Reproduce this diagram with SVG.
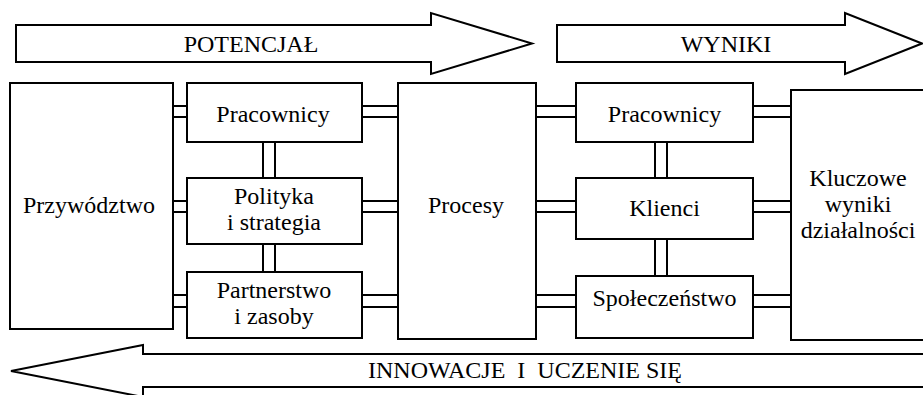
<svg xmlns="http://www.w3.org/2000/svg" width="923" height="395" viewBox="0 0 923 395">
<style>
.b{fill:#fff;stroke:#000;stroke-width:2}
.a{fill:#fff;stroke:#000;stroke-width:2;stroke-linejoin:miter}
.c line{stroke:#000;stroke-width:2}
.t{font-family:"Liberation Serif","Times New Roman",serif;font-size:24px;fill:#000;text-anchor:middle}
</style>
<rect width="923" height="395" fill="#fff"/>
<g id="arrow-potencjal">
<polygon class="a" points="16,25 431,25 431,13 532,43.5 431,74 431,62 16,62"/>
<text class="t" x="251" y="52">POTENCJAŁ</text>
</g>
<g id="arrow-wyniki">
<polygon class="a" points="557,25 845,25 845,13 922,43.5 845,74 845,62 557,62"/>
<text class="t" x="726" y="52">WYNIKI</text>
</g>
<g id="arrow-innowacje">
<path class="a" d="M926,354 L143,354 L143,345 L11,371 L143,397 L143,387 L926,387"/>
<text class="t" x="525" y="378" xml:space="preserve">INNOWACJE  I  UCZENIE SIĘ</text>
</g>
<g class="c" id="connectors">
<line x1="173" y1="106" x2="187" y2="106"/><line x1="173" y1="117" x2="187" y2="117"/>
<line x1="173" y1="201" x2="187" y2="201"/><line x1="173" y1="212" x2="187" y2="212"/>
<line x1="173" y1="295" x2="187" y2="295"/><line x1="173" y1="307" x2="187" y2="307"/>
<line x1="362" y1="106" x2="398" y2="106"/><line x1="362" y1="117" x2="398" y2="117"/>
<line x1="362" y1="201" x2="398" y2="201"/><line x1="362" y1="212" x2="398" y2="212"/>
<line x1="362" y1="295" x2="398" y2="295"/><line x1="362" y1="307" x2="398" y2="307"/>
<line x1="536" y1="106" x2="576" y2="106"/><line x1="536" y1="117" x2="576" y2="117"/>
<line x1="536" y1="201" x2="576" y2="201"/><line x1="536" y1="212" x2="576" y2="212"/>
<line x1="536" y1="295" x2="576" y2="295"/><line x1="536" y1="307" x2="576" y2="307"/>
<line x1="753" y1="106" x2="791" y2="106"/><line x1="753" y1="117" x2="791" y2="117"/>
<line x1="753" y1="201" x2="791" y2="201"/><line x1="753" y1="212" x2="791" y2="212"/>
<line x1="753" y1="295" x2="791" y2="295"/><line x1="753" y1="307" x2="791" y2="307"/>
<line x1="263" y1="142" x2="263" y2="178"/><line x1="275" y1="142" x2="275" y2="178"/>
<line x1="263" y1="244" x2="263" y2="272"/><line x1="275" y1="244" x2="275" y2="272"/>
<line x1="655" y1="142" x2="655" y2="178"/><line x1="667" y1="142" x2="667" y2="178"/>
<line x1="655" y1="239" x2="655" y2="276"/><line x1="667" y1="239" x2="667" y2="276"/>
</g>
<g id="przywodztwo">
<rect class="b" x="10" y="83" width="163" height="246"/>
<text class="t" x="89" y="213">Przywództwo</text>
</g>
<g id="pracownicy-1">
<rect class="b" x="187" y="83" width="175" height="59"/>
<text class="t" x="273" y="122">Pracownicy</text>
</g>
<g id="polityka">
<rect class="b" x="187" y="178" width="175" height="66"/>
<text class="t" x="274" y="204">Polityka</text>
<text class="t" x="274" y="230">i strategia</text>
</g>
<g id="partnerstwo">
<rect class="b" x="187" y="272" width="175" height="66"/>
<text class="t" x="274" y="298">Partnerstwo</text>
<text class="t" x="274" y="324">i zasoby</text>
</g>
<g id="procesy">
<rect class="b" x="398" y="83" width="138" height="256"/>
<text class="t" x="466" y="213">Procesy</text>
</g>
<g id="pracownicy-2">
<rect class="b" x="576" y="83" width="177" height="59"/>
<text class="t" x="664.5" y="122">Pracownicy</text>
</g>
<g id="klienci">
<rect class="b" x="576" y="178" width="177" height="61"/>
<text class="t" x="664.5" y="216">Klienci</text>
</g>
<g id="spoleczenstwo">
<rect class="b" x="576" y="276" width="177" height="62"/>
<text class="t" x="664.5" y="306">Społeczeństwo</text>
</g>
<g id="kluczowe">
<rect class="b" x="791" y="90" width="140" height="250"/>
<text class="t" x="858" y="186">Kluczowe</text>
<text class="t" x="858" y="212">wyniki</text>
<text class="t" x="858" y="238">działalności</text>
</g>
</svg>
